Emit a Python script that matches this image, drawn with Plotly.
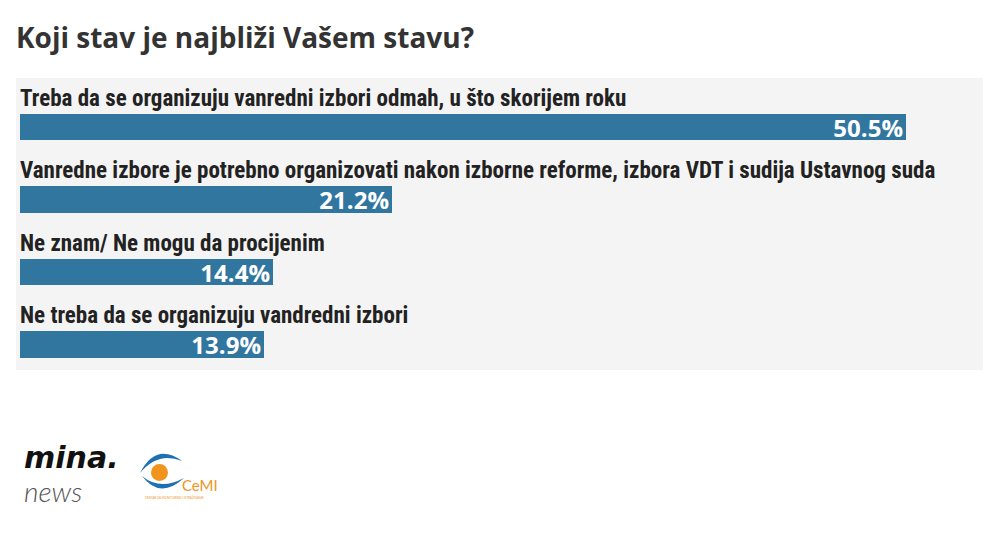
import plotly.graph_objects as go

title_text = "Koji stav je najbliži Vašem stavu?"
categories = [
    "Treba da se organizuju vanredni izbori odmah, u što skorijem roku",
    "Vanredne izbore je potrebno organizovati nakon izborne reforme, izbora VDT i sudija Ustavnog suda",
    "Ne znam/ Ne mogu da procijenim",
    "Ne treba da se organizuju vandredni izbori",
]
values = [50.5, 21.2, 14.4, 13.9]
value_labels = [f"{v}%" for v in values]

# the page body has an 8px default margin; lay out in page pixels and compensate
OFF = 8
W, H = 1000 - OFF, 540 - OFF
L, R, T, B = 16, 983, 78, 370  # page pixels of the panel

def px(x):
    return (x - L) / (R - L)

def py(y):
    return (B - y) / (B - T)

BAR = "#31769f"
LABEL_FONT = "Liberation Sans Narrow, Roboto Condensed, Arial Narrow, sans-serif"

fig = go.Figure()
fig.add_trace(go.Bar(
    x=values, y=categories, orientation="h",
    marker=dict(color=BAR, line=dict(width=0)),
    width=0.36,
    text=value_labels, textposition="inside", insidetextanchor="end",
    constraintext="none",
    textfont=dict(family="Open Sans, sans-serif", size=24, color="white", weight=700),
    hoverinfo="skip",
))

annotations = []
for c in categories:
    annotations.append(dict(
        x=0, y=c, xref="x", yref="y", text=c, showarrow=False,
        xanchor="left", yanchor="bottom", yshift=13, xshift=-2,
        font=dict(family=LABEL_FONT, size=23, color="#222222", weight=700),
    ))

annotations.append(dict(
    x=px(14), y=py(37), xref="paper", yref="paper", text=title_text,
    showarrow=False, xanchor="left", yanchor="middle",
    font=dict(family="Open Sans, sans-serif", size=28, color="#333333", weight=700),
))

# mina.news logo
annotations.append(dict(
    x=px(22), y=py(458), xref="paper", yref="paper", text="<i>mina.</i>",
    showarrow=False, xanchor="left", yanchor="middle",
    font=dict(family="DejaVu Sans, sans-serif", size=30, color="#111111", weight=700),
))
annotations.append(dict(
    x=px(22), y=py(491), xref="paper", yref="paper", text="<i>news</i>",
    showarrow=False, xanchor="left", yanchor="middle",
    font=dict(family="Lato, sans-serif", size=28, color="#555555", weight=300),
))
# CeMI logo text
annotations.append(dict(
    x=px(180), y=py(485), xref="paper", yref="paper", text="CeMI",
    showarrow=False, xanchor="left", yanchor="middle",
    font=dict(family="Lato, sans-serif", size=15, color="#f0941e", weight=400),
))
annotations.append(dict(
    x=px(143), y=py(497), xref="paper", yref="paper",
    text="CENTAR ZA MONITORING I ISTRAŽIVANJE",
    showarrow=False, xanchor="left", yanchor="middle",
    font=dict(family="Lato, sans-serif", size=3, color="#f0941e"),
))

shapes = [
    dict(type="circle", xref="paper", yref="paper",
         x0=px(151), x1=px(168), y0=py(481), y1=py(464),
         fillcolor="#f0941e", line=dict(width=0), layer="above"),
    dict(type="path", xref="paper", yref="paper",
         path=(f"M {px(140)},{py(473)} Q {px(156)},{py(442)} {px(182)},{py(461)} "
               f"Q {px(158)},{py(451)} {px(140)},{py(473)} Z"),
         fillcolor="#1f6fb5", line=dict(width=0), layer="above"),
    dict(type="path", xref="paper", yref="paper",
         path=(f"M {px(142)},{py(476)} Q {px(160)},{py(500)} {px(184)},{py(478)} "
               f"Q {px(160)},{py(491)} {px(142)},{py(476)} Z"),
         fillcolor="#1f6fb5", line=dict(width=0), layer="above"),
]

fig.update_layout(
    width=W, height=H,
    margin=dict(l=L - OFF, r=1000 - R, t=T - OFF, b=540 - B, pad=0),
    paper_bgcolor="white", plot_bgcolor="#f4f4f4",
    showlegend=False,
    xaxis=dict(range=[-4 / 17.54, (R - 20) / 17.54], visible=False, fixedrange=True),
    yaxis=dict(range=[3.352, -0.676], visible=False, fixedrange=True,
               categoryorder="array", categoryarray=categories),
    annotations=annotations, shapes=shapes,
    bargap=0,
)

fig.write_html("out.html")
